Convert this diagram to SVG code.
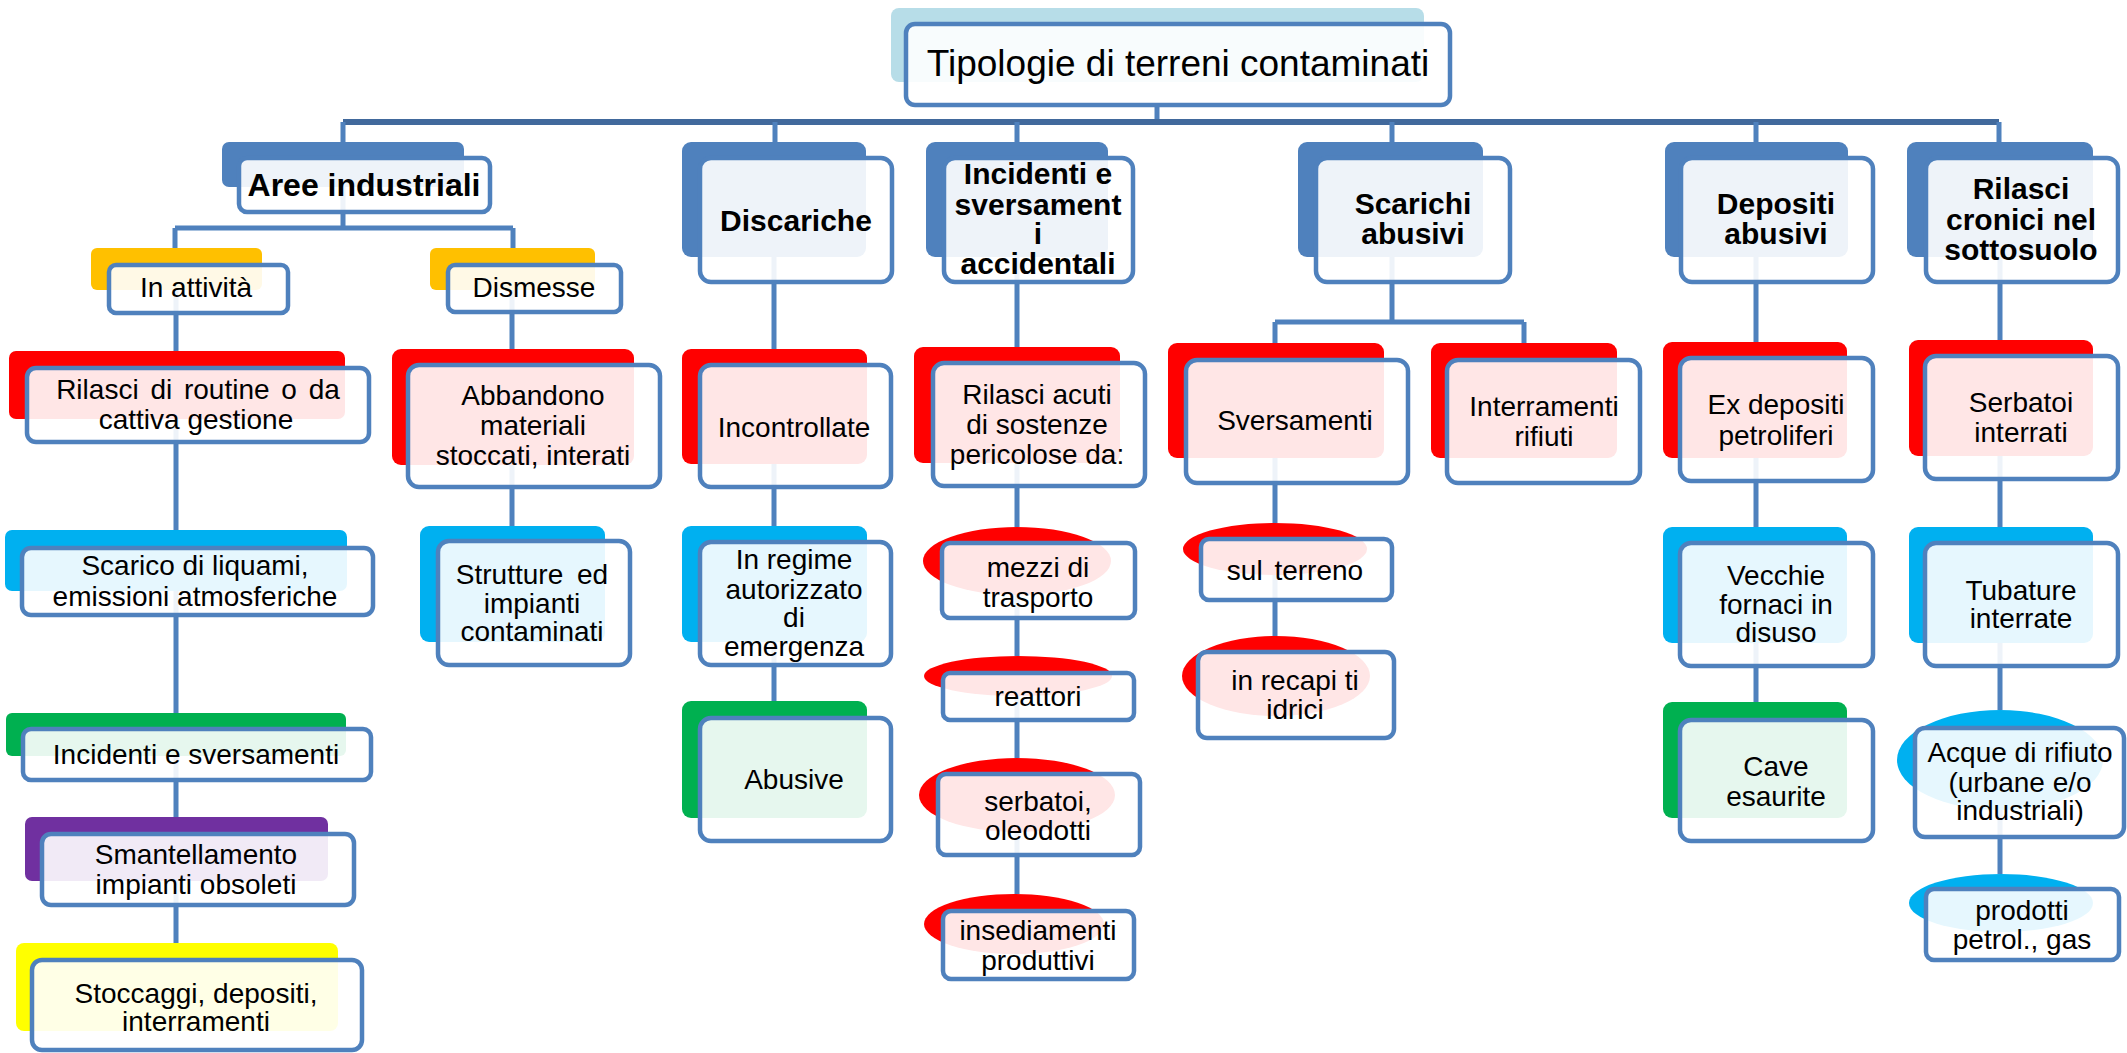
<svg xmlns="http://www.w3.org/2000/svg" width="2127" height="1053" viewBox="0 0 2127 1053">
<style>
.conn{stroke:#4F81BD;stroke-width:5;fill:none}
.bus{stroke:#41699C;stroke-width:6;fill:none}
.box{fill:#FFFFFF;fill-opacity:0.9;stroke:#4F81BD;stroke-width:4.5}
.sb{fill:#4F81BD}.sr{fill:#FF0000}.sc{fill:#00B0F0}.sg{fill:#00B050}.so{fill:#FFC000}.sy{fill:#FFFF00}.sp{fill:#7030A0}.st{fill:#B7DDE8}
text{font-family:"Liberation Sans",Arial,sans-serif;fill:#000;text-anchor:middle}
.t{font-size:28px}
.b{font-size:30px;font-weight:bold}
.ti{font-size:37px}
</style>
<rect width="2127" height="1053" fill="#FFFFFF"/>
<g id="connectors">
<path class="conn" d="M1157,105V122"/>
<path class="bus" d="M343,122H1999"/>
<path class="conn" d="M343,122V142M775,122V142M1017,122V142M1392,122V142M1756,122V142M1999,122V142"/>
<path class="conn" d="M343,187V228M175,228H513M175,228V248M513,228V248"/>
<path class="conn" d="M176,290V351M176,419V530M176,591V713M176,756V817M176,881V943"/>
<path class="conn" d="M512,290V349M512,465V526"/>
<path class="conn" d="M774,257V349M774,464V526M774,642V701"/>
<path class="conn" d="M1017,257V347M1017,463V527M1017,595V656M1017,696V758M1017,832V894"/>
<path class="conn" d="M1392,257V322M1275,322H1524M1275,322V343M1524,322V343M1275,458V523M1275,575V636"/>
<path class="conn" d="M1756,257V342M1756,458V527M1756,643V702"/>
<path class="conn" d="M2000,257V340M2000,456V527M2000,643V710M2000,810V874"/>
</g>
<g id="title">
<rect class="st" x="891" y="8" width="533" height="74" rx="8"/>
<rect class="box" x="906" y="24" width="544" height="81" rx="9"/>
<text class="ti" x="1178" y="76">Tipologie di terreni contaminati</text>
</g>
<g id="aree-industriali">
<rect class="sb" x="222" y="142" width="242" height="45" rx="7"/>
<rect class="box" x="239" y="158" width="251" height="54" rx="8"/>
<text class="b" x="364" y="196" style="font-size:32px">Aree industriali</text>
</g>
<g id="discariche">
<rect class="sb" x="682" y="142" width="184" height="115" rx="9"/>
<rect class="box" x="700" y="158" width="192" height="124" rx="11"/>
<text class="b" x="796" y="231">Discariche</text>
</g>
<g id="incidenti">
<rect class="sb" x="926" y="142" width="182" height="115" rx="9"/>
<rect class="box" x="944" y="158" width="189" height="124" rx="11"/>
<text class="b" x="1038" y="184">Incidenti e</text>
<text class="b" x="1038" y="215">sversament</text>
<text class="b" x="1038" y="244">i</text>
<text class="b" x="1038" y="274">accidentali</text>
</g>
<g id="scarichi">
<rect class="sb" x="1298" y="142" width="185" height="115" rx="9"/>
<rect class="box" x="1316" y="158" width="194" height="124" rx="11"/>
<text class="b" x="1413" y="214">Scarichi</text>
<text class="b" x="1413" y="244">abusivi</text>
</g>
<g id="depositi">
<rect class="sb" x="1665" y="142" width="183" height="115" rx="9"/>
<rect class="box" x="1681" y="158" width="192" height="124" rx="11"/>
<text class="b" x="1776" y="214">Depositi</text>
<text class="b" x="1776" y="244">abusivi</text>
</g>
<g id="rilasci-cronici">
<rect class="sb" x="1907" y="142" width="186" height="115" rx="9"/>
<rect class="box" x="1926" y="158" width="192" height="124" rx="11"/>
<text class="b" x="2021" y="199">Rilasci</text>
<text class="b" x="2021" y="230">cronici nel</text>
<text class="b" x="2021" y="260">sottosuolo</text>
</g>
<g id="in-attivita">
<rect class="so" x="91" y="248" width="171" height="42" rx="6"/>
<rect class="box" x="109" y="265" width="179" height="48" rx="7"/>
<text class="t" x="196" y="297">In attività</text>
</g>
<g id="dismesse">
<rect class="so" x="430" y="248" width="165" height="42" rx="6"/>
<rect class="box" x="448" y="265" width="173" height="47" rx="7"/>
<text class="t" x="534" y="297">Dismesse</text>
</g>
<g id="rilasci-routine">
<rect class="sr" x="9" y="351" width="336" height="68" rx="7"/>
<rect class="box" x="27" y="368" width="342" height="74" rx="9"/>
<text class="t" x="198" y="399" style="word-spacing:4px">Rilasci di routine o da</text>
<text class="t" x="196" y="429">cattiva gestione</text>
</g>
<g id="scarico-liquami">
<rect class="sc" x="5" y="530" width="342" height="61" rx="7"/>
<rect class="box" x="22" y="548" width="351" height="67" rx="9"/>
<text class="t" x="195" y="575">Scarico di liquami,</text>
<text class="t" x="195" y="606">emissioni atmosferiche</text>
</g>
<g id="incidenti-sversamenti">
<rect class="sg" x="6" y="713" width="340" height="43" rx="6"/>
<rect class="box" x="23" y="729" width="348" height="51" rx="8"/>
<text class="t" x="196" y="764">Incidenti  e sversamenti</text>
</g>
<g id="smantellamento">
<rect class="sp" x="25" y="817" width="303" height="64" rx="7"/>
<rect class="box" x="42" y="834" width="312" height="71" rx="9"/>
<text class="t" x="196" y="864">Smantellamento</text>
<text class="t" x="196" y="894">impianti obsoleti</text>
</g>
<g id="stoccaggi">
<rect class="sy" x="16" y="943" width="322" height="88" rx="8"/>
<rect class="box" x="32" y="960" width="330" height="90" rx="10"/>
<text class="t" x="196" y="1003">Stoccaggi, depositi,</text>
<text class="t" x="196" y="1031">interramenti</text>
</g>
<g id="abbandono">
<rect class="sr" x="392" y="349" width="242" height="116" rx="9"/>
<rect class="box" x="408" y="365" width="252" height="122" rx="11"/>
<text class="t" x="533" y="405">Abbandono</text>
<text class="t" x="533" y="435">materiali</text>
<text class="t" x="533" y="465">stoccati, interati</text>
</g>
<g id="strutture">
<rect class="sc" x="420" y="526" width="185" height="116" rx="9"/>
<rect class="box" x="438" y="541" width="192" height="124" rx="11"/>
<text class="t" x="532" y="584" style="word-spacing:6px">Strutture ed</text>
<text class="t" x="532" y="613">impianti</text>
<text class="t" x="532" y="641">contaminati</text>
</g>
<g id="incontrollate">
<rect class="sr" x="682" y="349" width="185" height="115" rx="9"/>
<rect class="box" x="700" y="365" width="191" height="122" rx="11"/>
<text class="t" x="794" y="437">Incontrollate</text>
</g>
<g id="in-regime">
<rect class="sc" x="682" y="526" width="185" height="116" rx="9"/>
<rect class="box" x="700" y="542" width="191" height="123" rx="11"/>
<text class="t" x="794" y="569">In regime</text>
<text class="t" x="794" y="599">autorizzato</text>
<text class="t" x="794" y="627">di</text>
<text class="t" x="794" y="656">emergenza</text>
</g>
<g id="abusive">
<rect class="sg" x="682" y="701" width="185" height="117" rx="9"/>
<rect class="box" x="700" y="718" width="191" height="123" rx="11"/>
<text class="t" x="794" y="789">Abusive</text>
</g>
<g id="rilasci-acuti">
<rect class="sr" x="914" y="347" width="206" height="116" rx="9"/>
<rect class="box" x="933" y="363" width="212" height="123" rx="11"/>
<text class="t" x="1037" y="404">Rilasci acuti</text>
<text class="t" x="1037" y="434">di sostenze</text>
<text class="t" x="1037" y="464">pericolose da:</text>
</g>
<g id="mezzi">
<ellipse class="sr" cx="1017" cy="561" rx="94" ry="34"/>
<rect class="box" x="942" y="543" width="193" height="75" rx="8"/>
<text class="t" x="1038" y="577">mezzi di</text>
<text class="t" x="1038" y="607">trasporto</text>
</g>
<g id="reattori">
<ellipse class="sr" cx="1018" cy="676" rx="94" ry="20"/>
<rect class="box" x="943" y="673" width="191" height="47" rx="7"/>
<text class="t" x="1038" y="706">reattori</text>
</g>
<g id="serbatoi-oleodotti">
<ellipse class="sr" cx="1017" cy="795" rx="98" ry="37"/>
<rect class="box" x="938" y="774" width="202" height="81" rx="8"/>
<text class="t" x="1038" y="811">serbatoi,</text>
<text class="t" x="1038" y="840">oleodotti</text>
</g>
<g id="insediamenti">
<ellipse class="sr" cx="1014" cy="924" rx="90" ry="30"/>
<rect class="box" x="943" y="911" width="191" height="68" rx="8"/>
<text class="t" x="1038" y="940">insediamenti</text>
<text class="t" x="1038" y="970">produttivi</text>
</g>
<g id="sversamenti">
<rect class="sr" x="1168" y="343" width="216" height="115" rx="9"/>
<rect class="box" x="1186" y="360" width="222" height="123" rx="11"/>
<text class="t" x="1295" y="430">Sversamenti</text>
</g>
<g id="interramenti">
<rect class="sr" x="1431" y="343" width="186" height="115" rx="9"/>
<rect class="box" x="1447" y="360" width="193" height="123" rx="11"/>
<text class="t" x="1544" y="416">Interramenti</text>
<text class="t" x="1544" y="446">rifiuti</text>
</g>
<g id="sul-terreno">
<ellipse class="sr" cx="1275" cy="549" rx="92" ry="26"/>
<rect class="box" x="1201" y="539" width="191" height="61" rx="8"/>
<text class="t" x="1295" y="580" style="word-spacing:4px">sul terreno</text>
</g>
<g id="recapiti-idrici">
<ellipse class="sr" cx="1276" cy="676" rx="94" ry="40"/>
<rect class="box" x="1198" y="652" width="196" height="86" rx="9"/>
<text class="t" x="1295" y="690">in recapi ti</text>
<text class="t" x="1295" y="719">idrici</text>
</g>
<g id="ex-depositi">
<rect class="sr" x="1663" y="342" width="184" height="116" rx="9"/>
<rect class="box" x="1680" y="358" width="193" height="123" rx="11"/>
<text class="t" x="1776" y="414">Ex depositi</text>
<text class="t" x="1776" y="445">petroliferi</text>
</g>
<g id="vecchie-fornaci">
<rect class="sc" x="1663" y="527" width="184" height="116" rx="9"/>
<rect class="box" x="1680" y="543" width="193" height="123" rx="11"/>
<text class="t" x="1776" y="585">Vecchie</text>
<text class="t" x="1776" y="614">fornaci in</text>
<text class="t" x="1776" y="642">disuso</text>
</g>
<g id="cave">
<rect class="sg" x="1663" y="702" width="184" height="116" rx="9"/>
<rect class="box" x="1680" y="720" width="193" height="121" rx="11"/>
<text class="t" x="1776" y="776">Cave</text>
<text class="t" x="1776" y="806">esaurite</text>
</g>
<g id="serbatoi-interrati">
<rect class="sr" x="1909" y="340" width="184" height="116" rx="9"/>
<rect class="box" x="1925" y="356" width="193" height="123" rx="11"/>
<text class="t" x="2021" y="412">Serbatoi</text>
<text class="t" x="2021" y="442">interrati</text>
</g>
<g id="tubature">
<rect class="sc" x="1909" y="527" width="184" height="116" rx="9"/>
<rect class="box" x="1925" y="543" width="193" height="123" rx="11"/>
<text class="t" x="2021" y="600">Tubature</text>
<text class="t" x="2021" y="628">interrate</text>
</g>
<g id="acque-rifiuto">
<ellipse class="sc" cx="2000" cy="760" rx="103" ry="50"/>
<rect class="box" x="1915" y="728" width="209" height="109" rx="10"/>
<text class="t" x="2020" y="762">Acque di rifiuto</text>
<text class="t" x="2020" y="792">(urbane e/o</text>
<text class="t" x="2020" y="820">industriali)</text>
</g>
<g id="prodotti">
<ellipse class="sc" cx="2001" cy="903" rx="92" ry="29"/>
<rect class="box" x="1926" y="889" width="193" height="71" rx="8"/>
<text class="t" x="2022" y="920">prodotti</text>
<text class="t" x="2022" y="949">petrol., gas</text>
</g>
</svg>
